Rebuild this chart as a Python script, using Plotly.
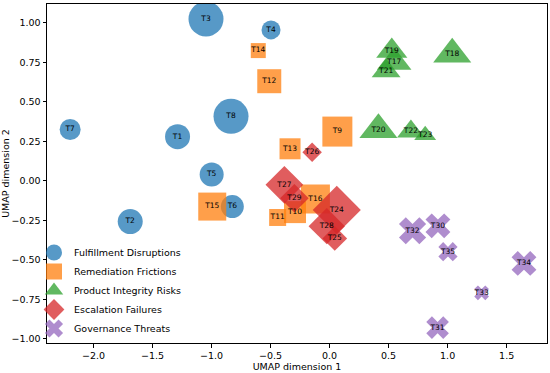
import plotly.graph_objects as go

# ---- data ----
fd_labels = ["T1", "T2", "T3", "T4", "T5", "T6", "T7", "T8"]
fd_x = [-1.288, -1.689, -1.047, -0.496, -0.999, -0.824, -2.198, -0.835]
fd_y = [0.280, -0.258, 1.025, 0.956, 0.040, -0.163, 0.325, 0.409]
fd_s = [25, 25, 35, 19, 24, 23, 21, 35]

rf_labels = ["T9", "T10", "T11", "T12", "T13", "T14", "T15", "T16"]
rf_x = [0.066, -0.293, -0.440, -0.511, -0.335, -0.604, -0.994, -0.120]
rf_y = [0.312, -0.198, -0.232, 0.631, 0.203, 0.825, -0.163, -0.115]
rf_s = [30, 22, 17, 24, 21, 15, 28, 29]

pi_labels = ["T17", "T18", "T19", "T20", "T21", "T22", "T23"]
pi_x = [0.547, 1.039, 0.527, 0.414, 0.479, 0.689, 0.810]
pi_y = [0.751, 0.802, 0.823, 0.323, 0.696, 0.312, 0.289]
pi_s = [30, 33, 27, 33, 25, 24, 19]

ef_labels = ["T24", "T25", "T26", "T27", "T28", "T29"]
ef_x = [0.061, 0.044, -0.148, -0.383, -0.024, -0.298]
ef_y = [-0.184, -0.365, 0.181, -0.025, -0.287, -0.110]
ef_s = [37, 19, 15, 29, 28, 22]

gt_labels = ["T30", "T31", "T32", "T33", "T34", "T35"]
gt_x = [0.918, 0.915, 0.703, 1.288, 1.647, 1.003]
gt_y = [-0.285, -0.930, -0.316, -0.709, -0.523, -0.449]
gt_s = [22, 20, 24, 13, 22, 17]

groups = [
    ("Fulfillment Disruptions", fd_labels, fd_x, fd_y, fd_s, "circle", "#1f77b4"),
    ("Remediation Frictions", rf_labels, rf_x, rf_y, rf_s, "square", "#ff7f0e"),
    ("Product Integrity Risks", pi_labels, pi_x, pi_y, pi_s, "triangle-up", "#2ca02c"),
    ("Escalation Failures", ef_labels, ef_x, ef_y, ef_s, "diamond", "#d62728"),
    ("Governance Threats", gt_labels, gt_x, gt_y, gt_s, "x", "#9467bd"),
]

x_ticks = [-2.0, -1.5, -1.0, -0.5, 0.0, 0.5, 1.0, 1.5]
y_ticks = [-1.0, -0.75, -0.5, -0.25, 0.0, 0.25, 0.5, 0.75, 1.0]

FONT = "DejaVu Sans"

fig = go.Figure()
for name, labels, xs, ys, ss, sym, col in groups:
    fig.add_trace(go.Scatter(
        x=xs, y=ys, mode="markers", name=name,
        marker=dict(symbol=sym, size=ss, color=col, opacity=0.75,
                    line=dict(width=0)),
        hoverinfo="skip",
    ))

all_labels, all_x, all_y = [], [], []
for name, labels, xs, ys, ss, sym, col in groups:
    all_labels += labels
    all_x += xs
    all_y += ys
fig.add_trace(go.Scatter(
    x=all_x, y=all_y, mode="text", text=all_labels,
    textposition="middle center",
    textfont=dict(family=FONT, size=7.5, color="black"),
    showlegend=False, hoverinfo="skip",
))

axis_common = dict(
    showgrid=False, zeroline=False, showline=True, linecolor="black",
    linewidth=1, mirror=True, ticks="outside", ticklen=3.5, tickwidth=1,
    tickcolor="black", tickfont=dict(family=FONT, size=9.5, color="black"),
    automargin=False,
)

fig.update_layout(
    width=550, height=373,
    margin=dict(l=47, r=3, t=4, b=30),
    paper_bgcolor="white", plot_bgcolor="white",
    font=dict(family=FONT, color="black"),
    xaxis=dict(range=[-2.394, 1.842], tickvals=x_ticks, tickformat=".1f",
               title=dict(text="UMAP dimension 1", font=dict(size=9.5), standoff=0),
               **axis_common),
    yaxis=dict(range=[-1.027, 1.12], tickvals=y_ticks, tickformat=".2f",
               title=dict(text="UMAP dimension 2", font=dict(size=9.5), standoff=4),
               **axis_common),
    legend=dict(x=-0.026, y=0.0, xanchor="left", yanchor="bottom",
                bgcolor="rgba(0,0,0,0)", borderwidth=0,
                font=dict(family=FONT, size=9.5, color="black"),
                tracegroupgap=0),
)

fig.write_html(
    "out.html",
    config={"displayModeBar": False},
    post_script="document.body.style.margin='0';document.body.style.padding='0';",
)
